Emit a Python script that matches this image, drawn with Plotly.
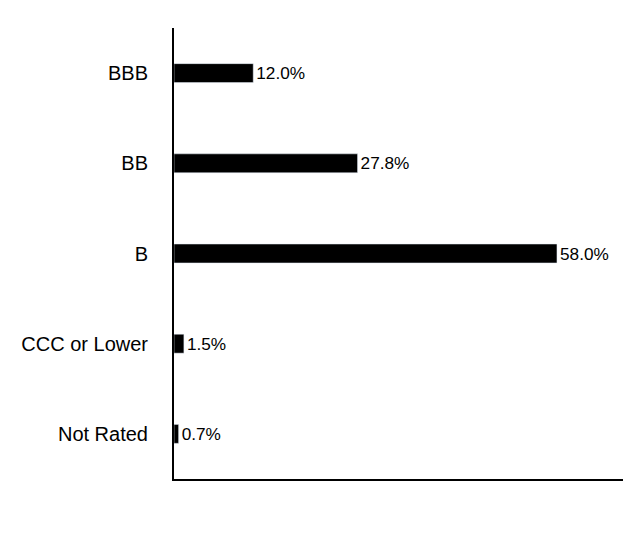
import plotly.graph_objects as go

categories = ["BBB", "BB", "B", "CCC or Lower", "Not Rated"]
values = [12.0, 27.8, 58.0, 1.5, 0.7]
labels = [f"{v:.1f}%" for v in values]

fig = go.Figure(go.Bar(
    x=values,
    y=categories,
    orientation="h",
    marker_color="black",
    width=0.21,
    text=labels,
    textposition="outside",
    textfont=dict(size=20, color="black"),
    cliponaxis=False,
))

fig.update_layout(
    width=636,
    height=552,
    margin=dict(l=166, r=21, t=20, b=81, autoexpand=False),
    plot_bgcolor="white",
    paper_bgcolor="white",
    font=dict(family="Liberation Sans, Arial", size=20, color="black"),
    showlegend=False,
)
fig.update_xaxes(range=[0, 68], showline=True, linecolor="black", linewidth=2,
                 showticklabels=False, showgrid=False, zeroline=False, ticks="",
                 automargin=False)
fig.update_yaxes(autorange="reversed", showline=True, linecolor="black", linewidth=2,
                 showgrid=False, ticks="", ticklabelstandoff=20, automargin=False)

fig.write_html("out.html")
